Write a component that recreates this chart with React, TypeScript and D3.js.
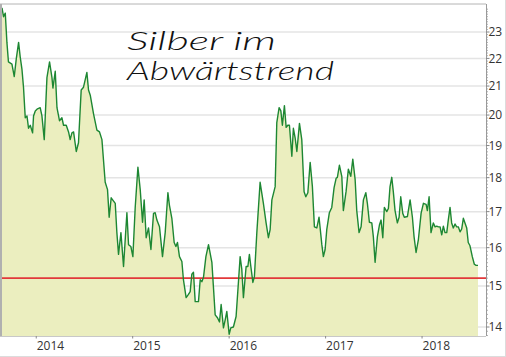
import React from "react";
import * as d3 from "d3";

const dates: number[] = [
  2013.645, 2013.661, 2013.679, 2013.696, 2013.712, 2013.748, 2013.772, 2013.793, 2013.817, 2013.834,
  2013.852, 2013.868, 2013.886, 2013.904, 2013.92, 2013.938, 2013.962, 2013.972, 2013.99, 2014.013,
  2014.041, 2014.059, 2014.083, 2014.111, 2014.138, 2014.163, 2014.173, 2014.197, 2014.215, 2014.241,
  2014.266, 2014.283, 2014.311, 2014.335, 2014.352, 2014.37, 2014.387, 2014.415, 2014.438, 2014.466,
  2014.49, 2014.525, 2014.542, 2014.56, 2014.594, 2014.629, 2014.656, 2014.681, 2014.715, 2014.739,
  2014.756, 2014.777, 2014.819, 2014.836, 2014.853, 2014.878, 2014.905, 2014.94, 2014.957, 2014.981,
  2015.002, 2015.026, 2015.054, 2015.078, 2015.102, 2015.119, 2015.14, 2015.164, 2015.189, 2015.216,
  2015.233, 2015.251, 2015.278, 2015.309, 2015.337, 2015.365, 2015.381, 2015.406, 2015.43, 2015.448,
  2015.464, 2015.485, 2015.51, 2015.526, 2015.554, 2015.578, 2015.596, 2015.613, 2015.63, 2015.648,
  2015.682, 2015.7, 2015.717, 2015.734, 2015.759, 2015.786, 2015.821, 2015.837, 2015.855, 2015.879,
  2015.9, 2015.917, 2015.941, 2015.959, 2015.976, 2016.0, 2016.017, 2016.044, 2016.072, 2016.096,
  2016.114, 2016.131, 2016.148, 2016.176, 2016.194, 2016.21, 2016.225, 2016.246, 2016.262, 2016.287,
  2016.321, 2016.355, 2016.383, 2016.407, 2016.425, 2016.443, 2016.477, 2016.494, 2016.518, 2016.536,
  2016.552, 2016.573, 2016.591, 2016.608, 2016.625, 2016.65, 2016.666, 2016.684, 2016.702, 2016.729,
  2016.753, 2016.777, 2016.795, 2016.816, 2016.84, 2016.863, 2016.884, 2016.909, 2016.932, 2016.961,
  2016.977, 2016.995, 2017.012, 2017.039, 2017.064, 2017.088, 2017.109, 2017.122, 2017.143, 2017.168,
  2017.184, 2017.212, 2017.236, 2017.261, 2017.282, 2017.306, 2017.323, 2017.347, 2017.368, 2017.392,
  2017.417, 2017.433, 2017.454, 2017.479, 2017.495, 2017.513, 2017.537, 2017.558, 2017.575, 2017.593,
  2017.609, 2017.634, 2017.651, 2017.668, 2017.686, 2017.702, 2017.72, 2017.744, 2017.762, 2017.779,
  2017.8, 2017.816, 2017.848, 2017.876, 2017.9, 2017.917, 2017.938, 2017.962, 2017.99, 2018.014,
  2018.042, 2018.055, 2018.073, 2018.093, 2018.117, 2018.135, 2018.152, 2018.169, 2018.187, 2018.204,
  2018.221, 2018.238, 2018.256, 2018.272, 2018.29, 2018.307, 2018.324, 2018.342, 2018.359, 2018.376,
  2018.394, 2018.411, 2018.428, 2018.445, 2018.463, 2018.479, 2018.497, 2018.521, 2018.542, 2018.56,
  2018.58,
];

const prices: number[] = [
  23.95, 23.6, 23.74, 22.6, 21.87, 21.79, 21.34, 21.98, 22.6, 22.05,
  21.6, 20.96, 19.91, 19.97, 19.56, 19.66, 19.41, 19.97, 20.14, 20.21,
  20.25, 19.97, 19.19, 21.3, 21.87, 21.3, 20.93, 21.53, 20.25, 19.81,
  19.91, 19.66, 19.66, 19.44, 19.19, 19.41, 19.44, 18.81, 19.09, 20.86,
  20.96, 21.49, 20.86, 20.68, 20.04, 19.5, 19.44, 19.19, 17.86, 17.64,
  16.84, 17.4, 17.24, 16.41, 15.82, 16.41, 15.5, 16.97, 16.08, 16.03,
  15.76, 17.12, 18.32, 17.64, 16.7, 17.34, 16.27, 16.54, 15.95, 16.95,
  16.97, 16.76, 16.57, 15.76, 16.41, 17.55, 17.18, 16.81, 16.14, 16.03,
  16.14, 15.76, 15.63, 15.16, 14.71, 14.79, 14.86, 15.3, 15.35, 14.61,
  14.61, 15.16, 15.11, 15.22, 15.76, 16.08, 15.61, 14.98, 14.29, 14.22,
  14.12, 14.54, 13.98, 14.17, 14.37, 13.83, 13.98, 14.0, 14.25, 15.09,
  15.76, 15.43, 14.71, 15.5, 15.5, 15.82, 15.5, 15.09, 15.24, 16.41,
  17.86, 17.24, 16.68, 16.27, 16.49, 17.34, 17.73, 19.75, 20.25, 20.14,
  19.66, 20.32, 19.59, 19.66, 19.66, 18.66, 19.56, 19.25, 18.81, 19.72,
  19.19, 17.58, 17.43, 17.55, 18.47, 17.73, 16.57, 16.54, 16.84, 16.08,
  15.76, 15.95, 16.49, 16.97, 17.12, 17.7, 17.98, 18.01, 18.38, 18.04,
  17.03, 17.58, 18.26, 18.04, 18.57, 17.95, 17.03, 16.41, 16.57, 17.34,
  17.55, 17.24, 16.7, 16.68, 16.3, 15.61, 16.3, 16.62, 16.76, 16.27,
  17.12, 17.0, 17.09, 17.73, 18.01, 17.58, 17.03, 16.68, 16.84, 17.43,
  16.95, 16.84, 16.86, 17.34, 16.84, 16.3, 15.87, 16.22, 16.95, 17.24,
  17.21, 17.03, 17.43, 16.41, 16.68, 16.57, 16.59, 16.57, 16.57, 16.35,
  16.59, 16.41, 16.41, 16.76, 17.12, 16.68, 16.54, 16.65, 16.57, 16.57,
  16.43, 16.51, 16.81, 16.68, 16.54, 16.14, 16.05, 15.76, 15.56, 15.53,
  15.53,
];

const yTicks: number[] = [14, 15, 16, 17, 18, 19, 20, 21, 22, 23];
const xTicks: number[] = [2014, 2015, 2016, 2017, 2018];
const supportLevel = 15.2;
const titleLines: string[] = ["Silber im", "Abwärtstrend"];

const W = 506;
const H = 357;
const left = 2;
const right = 486;
const top = 4;
const bottom = 336;

export default function App() {
  const x = d3.scaleLinear().domain([2013.645, 2018.663]).range([left, right]);
  const y = d3.scaleLog().domain([14, 23]).range([327, 32]);

  const pts: [number, number][] = dates.map((d, i) => [d, prices[i]]);
  const line = d3
    .line<[number, number]>()
    .x((d) => x(d[0]))
    .y((d) => y(d[1]));
  const area = d3
    .area<[number, number]>()
    .x((d) => x(d[0]))
    .y0(bottom)
    .y1((d) => y(d[1]));

  const minorTicks: number[] = [];
  for (let v = 13.8; v <= 24.1; v += 0.1) {
    const r = Math.round(v * 10) / 10;
    if (Math.abs(r - Math.round(r)) > 0.01) minorTicks.push(r);
  }

  const tickFont = "'Open Sans', 'DejaVu Sans', sans-serif";
  const titleFont = "'Lato', 'DejaVu Sans', sans-serif";

  return (
    <svg
      width={W}
      height={H}
      style={{ position: "absolute", left: 0, top: 0, background: "#fff" }}
    >
      {yTicks.map((t) => (
        <line
          key={"g" + t}
          x1={left}
          x2={right}
          y1={y(t)}
          y2={y(t)}
          stroke="#e4e4e4"
          strokeWidth={1.5}
        />
      ))}
      <path d={area(pts) || ""} fill="#ebeebf" />
      <line
        x1={0}
        x2={right}
        y1={y(supportLevel)}
        y2={y(supportLevel)}
        stroke="#e2383a"
        strokeWidth={1.6}
      />
      <path d={line(pts) || ""} fill="none" stroke="#1d8733" strokeWidth={1.4} strokeLinejoin="round" />

      <line x1={0} x2={right} y1={top} y2={top} stroke="#b4b4b4" strokeWidth={1} />
      <line x1={1} x2={1} y1={top} y2={bottom} stroke="#b0b0b0" strokeWidth={2} />
      <line x1={0} x2={right} y1={bottom + 0.5} y2={bottom + 0.5} stroke="#c8c8c8" strokeWidth={1} />
      <line x1={right + 0.5} x2={right + 0.5} y1={top} y2={bottom} stroke="#9a9a9a" strokeWidth={1} />
      <line x1={W - 0.5} x2={W - 0.5} y1={0} y2={H} stroke="#dcdcdc" strokeWidth={1} />
      <line x1={0} x2={W} y1={H - 0.5} y2={H - 0.5} stroke="#dcdcdc" strokeWidth={1} />

      {minorTicks.map((t) => (
        <line
          key={"m" + t}
          x1={right}
          x2={right + 2}
          y1={y(t)}
          y2={y(t)}
          stroke="#9a9a9a"
          strokeWidth={0.8}
        />
      ))}
      {yTicks.map((t) => (
        <g key={"yt" + t}>
          <line x1={right} x2={right + 3.5} y1={y(t)} y2={y(t)} stroke="#888" strokeWidth={1} />
          <text x={488.5} y={y(t)} dy="0.36em" fontSize={12} fontFamily={tickFont} fill="#333">
            {t}
          </text>
        </g>
      ))}

      {xTicks.map((t) => (
        <g key={"xt" + t}>
          <line x1={x(t)} x2={x(t)} y1={bottom} y2={bottom + 2.5} stroke="#888" strokeWidth={1} />
          <text x={x(t) + 0.5} y={350} fontSize={12} fontFamily={tickFont} fill="#333">
            {t}
          </text>
        </g>
      ))}

      <text
        x={127}
        y={50}
        fontSize={26}
        fontFamily={titleFont}
        fontStyle="italic"
        fontWeight={300}
        fill="#111"
        textLength={149}
        lengthAdjust="spacingAndGlyphs"
      >
        {titleLines[0]}
      </text>
      <text
        x={127}
        y={80}
        fontSize={26}
        fontFamily={titleFont}
        fontStyle="italic"
        fontWeight={300}
        fill="#111"
        textLength={207}
        lengthAdjust="spacingAndGlyphs"
      >
        {titleLines[1]}
      </text>
    </svg>
  );
}
